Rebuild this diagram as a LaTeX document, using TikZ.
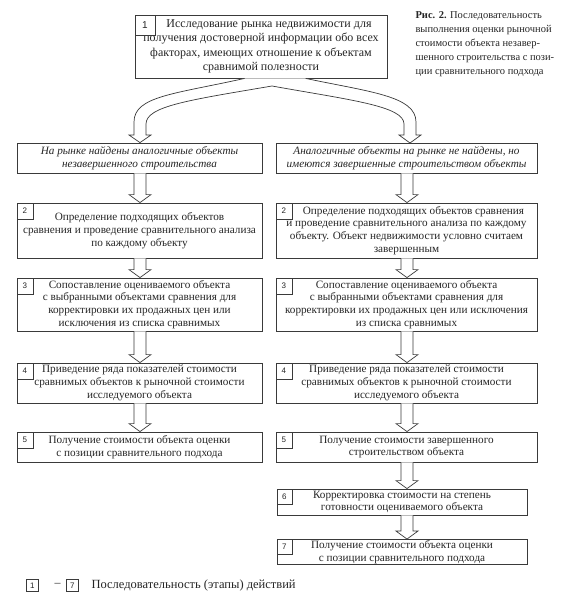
\documentclass[tikz,border=0pt]{standalone}
\usepackage{fontspec}
\setmainfont{Liberation Serif}
\setsansfont{Liberation Sans}
\usepackage{tikz}
\usetikzlibrary{calc}
\definecolor{ink}{HTML}{262626}
\definecolor{rule}{HTML}{3A3A3A}
\newcommand{\boxfont}{\fontsize{11.2}{12.7}\selectfont}
\tikzset{
  stepbox/.style={draw=rule, line width=0.8pt, align=center, text=ink, inner sep=1pt, font=\boxfont},
  casebox/.style={stepbox, font=\fontsize{11.2}{13}\selectfont\itshape},
  numbox/.style={draw=rule, line width=0.7pt, anchor=north west, inner sep=0pt, minimum size=16pt, text=ink, font=\sffamily\fontsize{8}{8}\selectfont},
  blockarr/.style={draw=rule, line width=0.7pt, line join=miter, fill=white},
  lab/.style={text=ink, align=left},
}
% hollow block arrow from one box down to the next, on a column line
\newcommand{\stepdown}[3]{%
  \draw[blockarr]
    ($(#3 |- #1.south)+(-6,0)$) -- ($(#3 |- #2.north)+(-6,-8)$) -- ($(#3 |- #2.north)+(-11,-8)$)
    -- (#3 |- #2.north) -- ($(#3 |- #2.north)+(11,-8)$) -- ($(#3 |- #2.north)+(6,-8)$)
    -- ($(#3 |- #1.south)+(6,0)$);
}
\begin{document}
\begin{tikzpicture}[x=1pt, y=-1pt]
  \useasboundingbox[fill=white] (0,0) rectangle (577,600);
  \coordinate (colL) at (140,0);
  \coordinate (colR) at (407,0);

  % top box and caption
  \node[stepbox, minimum width=252pt, minimum height=63pt, font=\fontsize{12}{14.5}\selectfont] (step1) at (261,46.5)
    {\hspace*{16pt}Исследование рынка недвижимости для\\получения достоверной информации обо всех\\факторах, имеющих отношение к объектам\\сравнимой полезности};
  \node[numbox, minimum size=20pt, font=\sffamily\fontsize{10}{10}\selectfont] at (step1.north west) {1};
  \node[lab, anchor=north west, font=\fontsize{10.5}{14}\selectfont] (caption) at (412,8)
    {\textbf{Рис. 2.} Последовательность\\выполнения оценки рыночной\\стоимости объекта незавер-\\шенного строительства с пози-\\ции сравнительного подхода};

  % two cases
  \node[casebox, minimum width=245pt, minimum height=30pt] (caseL) at (139.5,158)
    {На рынке найдены аналогичные объекты\\незавершенного строительства};
  \node[casebox, minimum width=261pt, minimum height=30pt] (caseR) at (406.5,158)
    {Аналогичные объекты на рынке не найдены, но\\имеются завершенные строительством объекты};

  % split arrow
  \draw[blockarr]
    ($(step1.south west)+(110,0)$) .. controls (175,94) and (134,96) .. (134,122) -- (134,135)
    -- (129,135) -- (caseL.north -| colL) -- (151,135) -- (146,135) -- (146,124)
    .. controls (146,106) and (190,100) .. (272,86)
    .. controls (350,100) and (404,106) .. (404,124) -- (404,135) -- (399,135)
    -- (410,143) -- (421,135) -- (416,135) -- (416,122)
    .. controls (416,96) and (370,92) .. ($(step1.south west)+(171,0)$);

  % left column
  \node[stepbox, minimum width=245pt, minimum height=55pt] (stepL2) at (139.5,230.5)
    {Определение подходящих объектов\\сравнения и проведение сравнительного анализа\\по каждому объекту};
  \node[stepbox, minimum width=245pt, minimum height=53pt] (stepL3) at (139.5,304.5)
    {Сопоставление оцениваемого объекта\\с выбранными объектами сравнения для\\корректировки их продажных цен или\\исключения из списка сравнимых};
  \node[stepbox, minimum width=245pt, minimum height=40pt] (stepL4) at (139.5,383)
    {Приведение ряда показателей стоимости\\сравнимых объектов к рыночной стоимости\\исследуемого объекта};
  \node[stepbox, minimum width=245pt, minimum height=30pt] (stepL5) at (139.5,447)
    {Получение стоимости объекта оценки\\с позиции сравнительного подхода};

  % right column
  \node[stepbox, minimum width=261pt, minimum height=55pt] (stepR2) at (406.5,230.5)
    {\hspace*{14pt}Определение подходящих объектов сравнения\\и проведение сравнительного анализа по каждому\\объекту. Объект недвижимости условно считаем\\завершенным};
  \node[stepbox, minimum width=261pt, minimum height=53pt] (stepR3) at (406.5,304.5)
    {Сопоставление оцениваемого объекта\\с выбранными объектами сравнения для\\корректировки их продажных цен или исключения\\из списка сравнимых};
  \node[stepbox, minimum width=261pt, minimum height=40pt] (stepR4) at (406.5,383)
    {Приведение ряда показателей стоимости\\сравнимых объектов к рыночной стоимости\\исследуемого объекта};
  \node[stepbox, minimum width=261pt, minimum height=30pt] (stepR5) at (406.5,447)
    {Получение стоимости завершенного\\строительством объекта};
  \node[stepbox, minimum width=250pt, minimum height=26pt] (stepR6) at (402,502)
    {Корректировка стоимости на степень\\готовности оцениваемого объекта};
  \node[stepbox, minimum width=250pt, minimum height=24pt] (stepR7) at (402,552)
    {Получение стоимости объекта оценки\\с позиции сравнительного подхода};

  % step numbers
  \foreach \n in {2,...,5} {
    \node[numbox] at (stepL\n.north west) {\n};
    \node[numbox] at (stepR\n.north west) {\n};
  }
  \node[numbox, minimum size=15pt] at (stepR6.north west) {6};
  \node[numbox, minimum size=15pt] at (stepR7.north west) {7};

  % arrows
  \stepdown{caseL}{stepL2}{colL}
  \stepdown{stepL2}{stepL3}{colL}
  \stepdown{stepL3}{stepL4}{colL}
  \stepdown{stepL4}{stepL5}{colL}
  \stepdown{caseR}{stepR2}{colR}
  \stepdown{stepR2}{stepR3}{colR}
  \stepdown{stepR3}{stepR4}{colR}
  \stepdown{stepR4}{stepR5}{colR}
  \stepdown{stepR5}{stepR6}{colR}
  \stepdown{stepR6}{stepR7}{colR}

  % legend
  \node[numbox, minimum size=12pt] (key1) at (26,579) {1};
  \node[lab, anchor=west, font=\fontsize{12}{12}\selectfont] (keydash) at (51,585) {--};
  \node[numbox, minimum size=12pt] (key7) at (66,579) {7};
  \node[lab, anchor=west, font=\fontsize{12.5}{12.5}\selectfont] (keytext) at (88,585) {Последовательность (этапы) действий};
\end{tikzpicture}
\end{document}
